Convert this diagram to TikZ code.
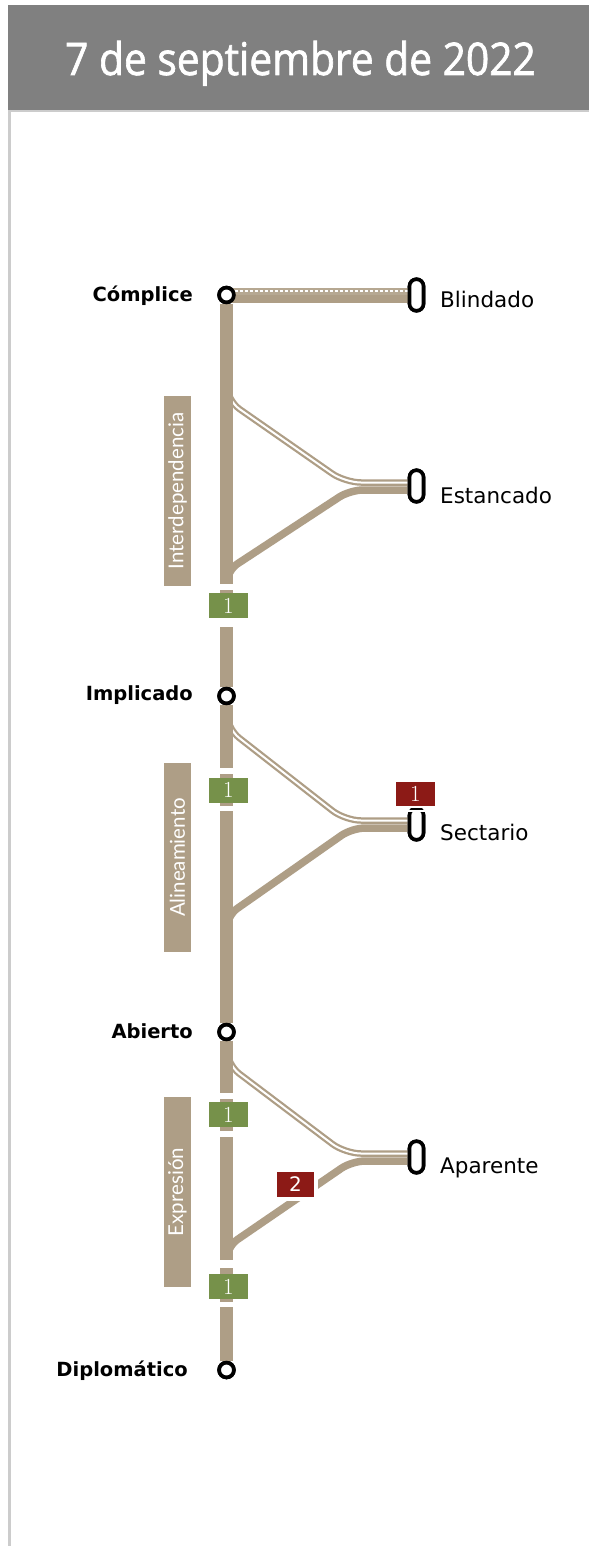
\documentclass[tikz,border=0pt]{standalone}
\usepackage{fontspec}
\newfontfamily\dejavu{DejaVu Sans}
\newfontfamily\titlefont{Open Sans}[FakeBold=1.6]
\newfontfamily\rotfont{Lato}
\definecolor{tanline}{RGB}{174,158,134}
\definecolor{headgray}{RGB}{128,128,128}
\definecolor{bordergray}{RGB}{204,204,204}
\definecolor{badgegreen}{RGB}{118,145,74}
\definecolor{badgered}{RGB}{140,26,22}
\begin{document}
\begin{tikzpicture}[x=1pt,y=-1pt,
  trunk/.style={draw=tanline, line width=13, line cap=butt},
  hollow/.style={draw=tanline, line width=2.25, double=white, double distance=2, rounded corners=16, line cap=butt},
  solidbr/.style={draw=tanline, line width=7.5, rounded corners=13, line cap=butt},
  station/.style={circle, draw=black, line width=3.7, fill=white, minimum size=14.8, inner sep=0pt},
  terminal/.style={rectangle, rounded corners=6.9, draw=black, line width=3.6, fill=white, minimum width=14, minimum height=31.5, inner sep=0pt},
  boldlbl/.style={font=\dejavu\bfseries\fontsize{19.5}{24}\selectfont, text=black, inner sep=0pt},
  endlbl/.style={font=\dejavu\fontsize{21.5}{26}\selectfont, text=black, inner sep=0pt, anchor=base west},
  rotbox/.style={fill=tanline, minimum width=27, minimum height=190, inner sep=0pt},
  rotlbl/.style={rotate=90, text=white, font=\rotfont\fontsize{20.5}{24}\selectfont, inner sep=0pt},
  gbadge/.style={fill=badgegreen, text=white, minimum width=39, minimum height=25, inner sep=0pt, font=\rmfamily\fontsize{23}{26}\selectfont},
  rbadge/.style={fill=badgered, text=white, minimum width=39, minimum height=24, inner sep=0pt, font=\rmfamily\fontsize{23}{26}\selectfont},
  gap/.style={fill=white, draw=none}
]
\useasboundingbox (0,0) rectangle (589,1546);
\fill[white] (0,0) rectangle (589,1546);
% header
\fill[headgray] (8,5) rectangle (589,110);
\node[text=white, font=\titlefont\fontsize{45}{54}\selectfont, inner sep=0pt, anchor=base, xscale=0.905] (title) at (300.5,75) {7 de septiembre de 2022};
\draw[bordergray, line width=2.5] (8,111.25) -- (589,111.25);
\draw[bordergray, line width=2.5] (9.25,110) -- (9.25,1546);

% stations
\node[station] (complice) at (226.5,295) {};
\node[station] (implicado) at (226.5,696) {};
\node[station] (abierto) at (226.5,1032) {};
\node[station] (diplomatico) at (226.5,1370) {};

% terminals
\node[terminal] (blindado) at (416.5,295) {};
\node[terminal] (estancado) at (416.5,486) {};
\node[terminal] (sectario) at (416.5,824) {};
\node[terminal] (aparente) at (416.5,1157) {};

% trunk connection points
\coordinate (s1a) at (226.5,385);
\coordinate (s1b) at (226.5,584);
\coordinate (s2a) at (226.5,712);
\coordinate (s2b) at (226.5,945);
\coordinate (s3a) at (226.5,1048);
\coordinate (s3b) at (226.5,1260);

% Blindado line
\draw[tanline, line width=8, line cap=butt] ([yshift=-4pt]complice.center) -- ([yshift=-4pt]blindado.west);
\draw[tanline!90, line width=7, line cap=butt] ([yshift=4pt]complice.center) -- ([yshift=4pt]blindado.west);
\draw[white, line width=1.6, dash pattern=on 3pt off 2pt, line cap=butt] ([yshift=4pt,xshift=8pt]complice.center) -- ([yshift=4pt]blindado.west);

% Interdependencia branches
\draw[hollow] (s1a) -- (226.5,400) -- (345,482.5) -- ([yshift=3.5pt]estancado.west);
\draw[solidbr] ([yshift=-4pt]estancado.west) -- (350,490) -- (226.5,571) -- (s1b);

% Alineamiento branches
\draw[hollow] (s2a) -- (226.5,728) -- (345,820.5) -- ([yshift=3.5pt]sectario.west);
\draw[solidbr] ([yshift=-4pt]sectario.west) -- (352,828) -- (226.5,916) -- (s2b);

% Expresion branches
\draw[hollow] (s3a) -- (226.5,1064) -- (345,1153.5) -- ([yshift=3.5pt]aparente.west);
\draw[solidbr] ([yshift=-4pt]aparente.west) -- (352,1161) -- (226.5,1247) -- (s3b);

% trunk
\draw[trunk] (complice) -- (s1b);
\draw[trunk] (s1b) -- (implicado);
\draw[trunk] (implicado) -- (abierto);
\draw[trunk] (abierto) -- (diplomatico);

% gaps in trunk
\fill[gap] (219,584) rectangle (234,590);
\fill[gap] (219,618) rectangle (234,627);
\fill[gap] (219,768) rectangle (234,774);
\fill[gap] (219,806) rectangle (234,811);
\fill[gap] (219,1093) rectangle (234,1099);
\fill[gap] (219,1131) rectangle (234,1137);
\fill[gap] (219,1260) rectangle (234,1268);
\fill[gap] (219,1302) rectangle (234,1307);

% redraw stations and terminals on top
\node[station] at (complice) {};
\node[station] at (implicado) {};
\node[station] at (abierto) {};
\node[station] at (diplomatico) {};
\node[terminal] at (blindado) {};
\node[terminal] at (estancado) {};
\node[terminal] at (sectario) {};
\node[terminal] at (aparente) {};

% badges
\node[gbadge] (g1) at (228.5,605.5) {1};
\node[gbadge] (g2) at (228.5,790) {1};
\node[gbadge] (g3) at (228.5,1114.5) {1};
\node[gbadge] (g4) at (228.5,1286.5) {1};
\fill[white] (394,780) rectangle (437,808);
\draw[white, line width=2] (405,811) -- (428,811);
\node[rbadge] (r1) at (415.5,794) {1};
\fill[white] (273,1168) rectangle (318,1201);
\node[rbadge, minimum width=37, minimum height=25, font=\dejavu\fontsize{20}{24}\selectfont] (r2) at (295.5,1184.5) {2};

% rotated section labels
\node[rotbox] (boxI) at (177.5,491) {};
\node[rotlbl] at (boxI) {Interdependencia};
\node[rotbox, minimum height=189] (boxA) at (177.5,857.5) {};
\node[rotlbl] at (boxA) {Alineamiento};
\node[rotbox] (boxE) at (177.5,1192) {};
\node[rotlbl] at (boxE) {Expresión};

% station labels
\node[boldlbl, anchor=base east] at (193,301) {Cómplice};
\node[boldlbl, anchor=base east] at (193,700) {Implicado};
\node[boldlbl, anchor=base east] at (193,1038) {Abierto};
\node[boldlbl, anchor=base east] at (188,1376) {Diplomático};

% terminal labels
\node[endlbl] at (440,307) {Blindado};
\node[endlbl] at (440,503) {Estancado};
\node[endlbl] at (440,840) {Sectario};
\node[endlbl] at (440,1173) {Aparente};
\end{tikzpicture}
\end{document}
